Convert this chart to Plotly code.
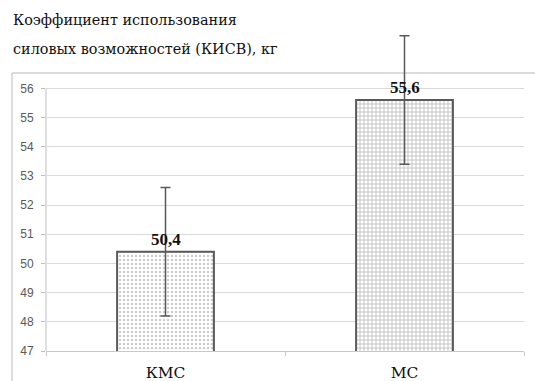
import plotly.graph_objects as go

categories = ["КМС", "МС"]
values = [50.4, 55.6]
errors = [2.2, 2.2]
y_ticks = [47, 48, 49, 50, 51, 52, 53, 54, 55, 56]
title_lines = ["Коэффициент использования", "силовых возможностей (КИСВ), кг"]

W, H = 535, 381
ML, MR, MT, MB = 46, 11, 30, 30
PW, PH = W - ML - MR, H - MT - MB
SERIF_NUM = "Liberation Serif, Times New Roman, DejaVu Serif, serif"
SERIF_CYR = "DejaVu Serif, serif"

def px_x(x):
    return (x - ML) / PW

def px_y(y):
    return (H - MB - y) / PH

fig = go.Figure()

patterns = [dict(shape=".", fgcolor="#9a9a9a", bgcolor="white", size=4, solidity=0.3),
            dict(shape="+", fgcolor="#8c8c8c", bgcolor="white", size=4, solidity=0.44)]

for i, (c, v, e) in enumerate(zip(categories, values, errors)):
    fig.add_trace(go.Bar(
        x=[c], y=[v],
        marker=dict(color="white", line=dict(color="#5a5a5a", width=2), pattern=patterns[i]),
        error_y=dict(type="data", array=[e], color="#5a5a5a", thickness=1.5, width=5),
        width=0.405,
        showlegend=False,
        cliponaxis=False,
        hoverinfo="skip",
    ))
    fig.add_annotation(x=c, y=v, text="<b>" + f"{v:.1f}".replace(".", ",") + "</b>", showarrow=False,
                       yanchor="bottom", yshift=1,
                       font=dict(family=SERIF_NUM, size=17, color="#111111"))

# title lines
for line, base in zip(title_lines, [25, 54]):
    fig.add_annotation(xref="paper", yref="paper", x=px_x(11), y=px_y(base + 5),
                       xanchor="left", yanchor="bottom", text=line, showarrow=False,
                       font=dict(family=SERIF_CYR, size=14.4, color="#111111"))

# outer chart frame (left and top edges)
fig.add_shape(type="line", xref="paper", yref="paper", x0=px_x(12), x1=px_x(545),
              y0=px_y(73), y1=px_y(73), line=dict(color="#b8b8b8", width=1), layer="below")
fig.add_shape(type="line", xref="paper", yref="paper", x0=px_x(12), x1=px_x(12),
              y0=px_y(73), y1=px_y(395), line=dict(color="#b8b8b8", width=1), layer="below")
# value axis line
fig.add_shape(type="line", xref="paper", yref="y", x0=0, x1=0, y0=y_ticks[0], y1=y_ticks[-1],
              line=dict(color="#bfbfbf", width=1), layer="below")

fig.update_layout(
    width=W, height=H,
    margin=dict(l=ML, r=MR, t=MT, b=MB, autoexpand=False),
    paper_bgcolor="white", plot_bgcolor="white",
    bargap=0.595,
    hovermode=False,
    xaxis=dict(
        automargin=False,
        showline=True, linecolor="#c8c8c8", linewidth=1,
        ticks="outside", tickson="boundaries", ticklen=4, tickcolor="#c8c8c8",
        tickfont=dict(family=SERIF_CYR, size=15.5, color="#111111"),
        ticklabelstandoff=7,
        showgrid=False,
    ),
    yaxis=dict(
        automargin=False,
        range=[47, 58], tickvals=y_ticks, ticktext=[str(t) for t in y_ticks],
        showgrid=True, gridcolor="#d9d9d9", gridwidth=1,
        ticks="outside", ticklen=4, tickcolor="#bfbfbf",
        tickfont=dict(family="Liberation Sans", size=12, color="#595959"),
        ticklabelstandoff=5,
        showline=False, zeroline=False,
    ),
)

fig.write_html("out.html", config={"displayModeBar": False},
               post_script="document.body.style.margin='0';")
